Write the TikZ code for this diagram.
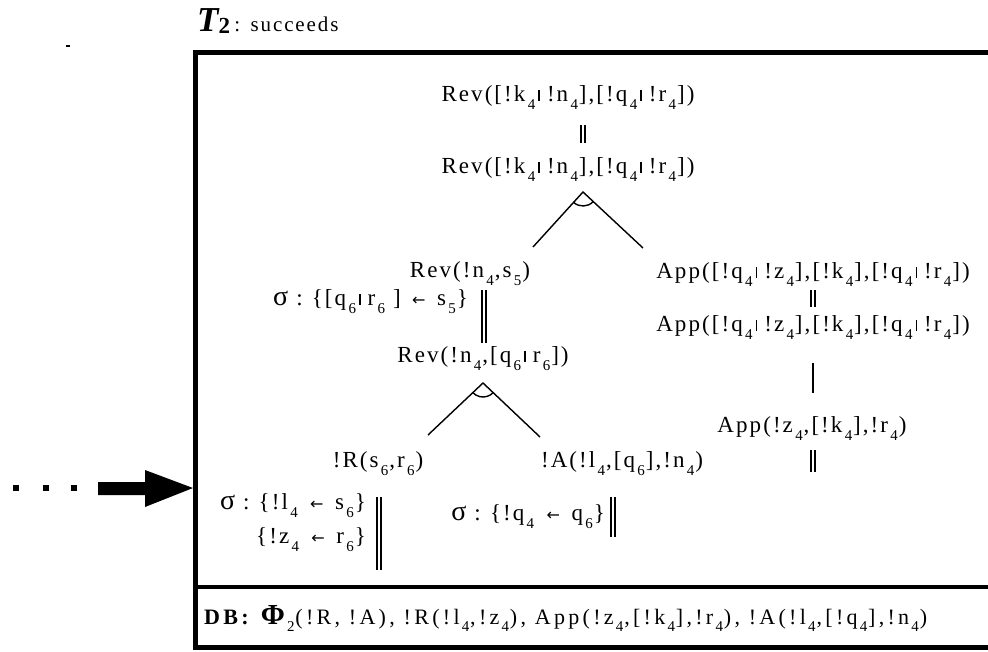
\documentclass[tikz,border=0pt]{standalone}
\usepackage{fontspec}
\setmainfont{Liberation Serif}
\newfontfamily\tf{Liberation Serif}[LetterSpace=9]
\newfontfamily\dbf{Liberation Serif}[LetterSpace=15]
\newfontfamily\arr{DejaVu Sans}
\newcommand\sbs[1]{\kern0.1em\raisebox{-0.36em}{\fontsize{15}{15}\selectfont #1}\kern0.04em}
\newcommand\vb{\kern0.1em\rule{0.07em}{0.5em}\kern0.3em}
\newcommand\la{\kern0.5em{\arr\fontsize{16}{16}\selectfont ←}\kern0.5em}
\newcommand\sig{{\fontsize{28}{28}\selectfont σ}\kern0.35em:\kern0.4em}
\begin{document}
\begin{tikzpicture}[x=1pt,y=-1pt,
  term/.style={font=\tf\fontsize{23}{27}\selectfont, inner sep=0pt},
  edge/.style={line width=1.4pt},
  dbl/.style={double, double distance=2.6pt, line width=1.3pt},
  bar/.style={line width=1.5pt},
  frame/.style={line width=5pt}]
\useasboundingbox (0,0) rectangle (988,651);
% frame
\draw[frame] (988,647) -- (195,647) -- (195,52) -- (988,52);
\draw[line width=4pt] (195,587) -- (988,587);
\fill (66,45) rectangle (70,47);
% title
\node[anchor=base west, inner sep=0pt] (title) at (197,31)
  {{\fontsize{35}{35}\selectfont\bfseries\itshape T}\raisebox{-0.25em}{\fontsize{23}{23}\selectfont\bfseries 2}{\tf\fontsize{21}{21}\selectfont\kern0.2em:\kern0.5em succeeds}};
% left nodes
\node[term, anchor=base] (rev1) at (568,101) {Rev([!k\sbs{4}\vb !n\sbs{4}],[!q\sbs{4}\vb !r\sbs{4}])};
\node[term, anchor=base] (rev2) at (568,173) {Rev([!k\sbs{4}\vb !n\sbs{4}],[!q\sbs{4}\vb !r\sbs{4}])};
\coordinate (ap1) at (583,192);
\coordinate (l1) at (533,247);
\coordinate (r1) at (643,248);
\node[term, anchor=base] (revn) at (470,277) {Rev(!n\sbs{4},s\sbs{5})};
\node[term, anchor=base east] (sig1) at (468,305) {\sig\{[q\sbs{6}\vb r\sbs{6}\kern0.3em]\la s\sbs{5}\}};
\node[term, anchor=base] (revq) at (483,362) {Rev(!n\sbs{4},[q\sbs{6}\vb r\sbs{6}])};
\coordinate (ap2) at (483,383);
\coordinate (l2) at (428,435);
\coordinate (r2) at (540,437);
\node[term, anchor=base] (rR) at (378,467) {!R(s\sbs{6},r\sbs{6})};
\node[term, anchor=base] (rA) at (622,467) {!A(!l\sbs{4},[q\sbs{6}],!n\sbs{4})};
\node[term, anchor=base east] (sig2) at (366,509) {\sig\{!l\sbs{4}\la s\sbs{6}\}};
\node[term, anchor=base east] (sig3) at (366,543) {\{!z\sbs{4}\la r\sbs{6}\}};
\node[term, anchor=base east] (sig4) at (605,520) {\sig\{!q\sbs{4}\la q\sbs{6}\}};
% right column
\node[term, anchor=base] (app1) at (813,278) {App([!q\sbs{4}\vb !z\sbs{4}],[!k\sbs{4}],[!q\sbs{4}\vb !r\sbs{4}])};
\node[term, anchor=base] (app2) at (813,331) {App([!q\sbs{4}\vb !z\sbs{4}],[!k\sbs{4}],[!q\sbs{4}\vb !r\sbs{4}])};
\node[term, anchor=base] (app3) at (812,432) {App(!z\sbs{4},[!k\sbs{4}],!r\sbs{4})};
% DB
\node[inner sep=0pt, anchor=base west, font=\dbf\fontsize{22}{26}\selectfont] (db) at (204,624) {\textbf{DB:} {\fontsize{29}{29}\selectfont\bfseries Φ}\sbs{2}(!R, !A), !R(!l\sbs{4},!z\sbs{4}), App(!z\sbs{4},[!k\sbs{4}],!r\sbs{4}), !A(!l\sbs{4},[!q\sbs{4}],!n\sbs{4})};
% connectors
\draw[dbl] (583,125) -- (583,143);
\draw[edge] (l1) -- (ap1) -- (r1);
\draw[edge] ([shift={(43:14)}]ap1) arc[start angle=43, end angle=133, radius=14];
\draw[dbl] (484,290) -- (484,343);
\draw[edge] (l2) -- (ap2) -- (r2);
\draw[edge] ([shift={(43:14)}]ap2) arc[start angle=43, end angle=137, radius=14];
\draw[dbl] (379,497) -- (379,570);
\draw[dbl] (613,497) -- (613,537);
\draw[dbl] (813,290) -- (813,307);
\draw[bar] (813,363) -- (813,393);
\draw[dbl] (813,450) -- (813,472);
% incoming arrow
\coordinate (tip) at (193,488);
\foreach \x in {16,46,74} \fill (\x-3,485) rectangle (\x+3,491);
\fill (98,482) -- (145,482) -- (145,470) -- (tip) -- (145,507) -- (145,495) -- (98,495) -- cycle;
\end{tikzpicture}
\end{document}
